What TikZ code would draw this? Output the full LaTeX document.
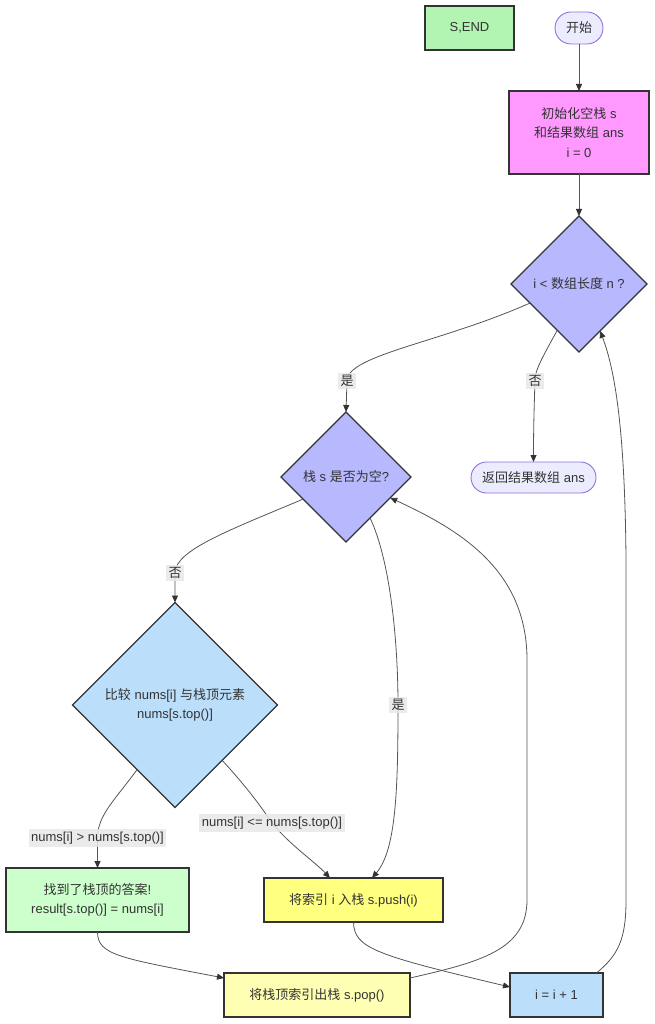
\documentclass[tikz,border=0pt]{standalone}
\usepackage{fontspec}
\setmainfont{Liberation Sans}
\newfontfamily\cjk{Noto Sans CJK SC}
\newcommand\zh[1]{{\cjk #1}}
\usetikzlibrary{shapes.geometric,arrows.meta,calc}
\definecolor{ink}{HTML}{333333}
\definecolor{edgec}{HTML}{555555}
\definecolor{labc}{HTML}{E8E8E8}
\definecolor{cend}{HTML}{B2F5B2}
\definecolor{cstart}{HTML}{ECECFF}
\definecolor{cpurple}{HTML}{9370DB}
\definecolor{cinit}{HTML}{FF99FF}
\definecolor{cdec}{HTML}{B8B8FF}
\definecolor{cblue}{HTML}{BBDEFB}
\definecolor{cfound}{HTML}{CCFFCC}
\definecolor{cpush}{HTML}{FFFF80}
\definecolor{cpop}{HTML}{FFFFB3}
\begin{document}
\begin{tikzpicture}[x=1pt,y=-1pt,
  font=\fontsize{13}{19.5}\selectfont,
  every node/.style={text=ink, align=center},
  rbox/.style={draw=ink, line width=1.3pt, inner sep=0pt, outer sep=0pt},
  stad/.style={draw=cpurple, line width=0.9pt, fill=cstart, inner sep=0pt, outer sep=0pt},
  dec/.style={diamond, aspect=1, draw=ink, line width=1.3pt, inner sep=0pt, outer sep=0pt},
  ed/.style={draw=edgec, line width=0.8pt, -{Triangle[length=7pt,width=6pt,fill=ink,color=ink]}},
  lbl/.style={fill=labc, fill opacity=0.85, text opacity=1, inner sep=2.5pt, text=ink}
]
\useasboundingbox (0,0) rectangle (655,1024);

% nodes
\node[rbox, fill=cend, minimum width=89pt, minimum height=44pt] (send) at (469.5,28) {S,END};
\node[stad, rounded corners=16pt, minimum width=48pt, minimum height=32pt] (start) at (579,28) {\zh{开始}};
\node[rbox, fill=cinit, minimum width=140pt, minimum height=83pt] (init) at (579,132.5) {\zh{初始化空栈} s\\\zh{和结果数组} ans\\i = 0};
\node[dec, fill=cdec, minimum width=136pt, minimum height=136pt] (d1) at (579,284) {i < \zh{数组长度} n ?};
\node[stad, rounded corners=15.5pt, minimum width=125pt, minimum height=31pt] (ret) at (533.5,477.5) {\zh{返回结果数组} ans};
\node[dec, fill=cdec, minimum width=130pt, minimum height=130pt] (d2) at (346,477) {\zh{栈} s \zh{是否为空}?};
\node[dec, fill=cblue, minimum width=205pt, minimum height=205pt] (d3) at (175,705) {\zh{比较} nums[i] \zh{与栈顶元素}\\nums[s.top()]};
\node[rbox, fill=cfound, minimum width=183pt, minimum height=64pt] (found) at (97.5,900) {\zh{找到了栈顶的答案}!\\result[s.top()] = nums[i]};
\node[rbox, fill=cpush, minimum width=179pt, minimum height=44pt] (push) at (353.5,900) {\zh{将索引} i \zh{入栈} s.push(i)};
\node[rbox, fill=cpop, minimum width=186pt, minimum height=44pt] (pop) at (317,995) {\zh{将栈顶索引出栈} s.pop()};
\node[rbox, fill=cblue, minimum width=93pt, minimum height=44pt] (inc) at (556.5,995) {i = i + 1};

% edges
\draw[ed] (start.south) -- (init.north);
\draw[ed] (init.south) -- (d1.north);
\draw[ed] ($(d1.west)!0.28!(d1.south)$) .. controls (440,343) and (347,355) .. (347,381) node[lbl] {\zh{是}} -- (d2.north);
\draw[ed] ($(d1.west)!0.68!(d1.south)$) .. controls (541,360) and (535,370) .. (535,381) node[lbl] {\zh{否}} .. controls (534,410) and (533.5,430) .. (ret.north);
\draw[ed] ($(d2.west)!0.34!(d2.south)$) .. controls (230,530) and (175,550) .. (175,573) node[lbl] {\zh{否}} -- (d3.north);
\draw[ed] ($(d2.south)!0.37!(d2.east)$) .. controls (390,560) and (398,640) .. (398,705) node[lbl] {\zh{是}} .. controls (398,790) and (396,850) .. ([xshift=18.5pt]push.north);
\draw[ed] ($(d3.west)!0.63!(d3.south)$) .. controls (115,800) and (97.5,815) .. (97.5,838) node[lbl] {nums[i] > nums[s.top()]} -- (found.north);
\draw[ed] ($(d3.south)!0.46!(d3.east)$) .. controls (245,785) and (260,805) .. (272,823) node[lbl] {nums[i] <= nums[s.top()]} .. controls (290,845) and (315,862) .. ([xshift=-23.5pt]push.north);
\draw[ed] (found.south) .. controls (97.5,955) and (120,958) .. ([yshift=17pt]pop.west);
\draw[ed] ([yshift=17pt]pop.east) .. controls (480,962) and (527,950) .. (527,900) -- (527,660) .. controls (527,570) and (460,530) .. ($(d2.south)!0.68!(d2.east)$);
\draw[ed] (push.south) .. controls (354,948) and (375,955) .. ([yshift=8pt]inc.west);
\draw[ed] ([xshift=40pt]inc.north) .. controls (618,955) and (626,940) .. (626,900) -- (626,560) .. controls (625,430) and (615,370) .. ($(d1.south)!0.31!(d1.east)$);
\end{tikzpicture}
\end{document}
